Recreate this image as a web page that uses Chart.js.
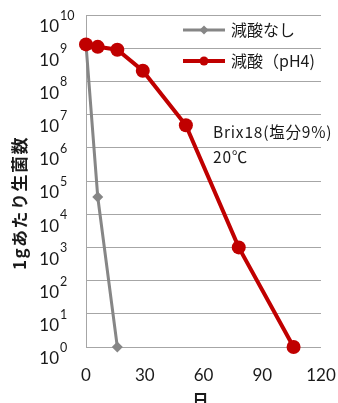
<!DOCTYPE html>
<html>
<head>
<meta charset="utf-8">
<script src="https://cdn.jsdelivr.net/npm/chart.js@4/dist/chart.umd.min.js"></script>
<style>
  html, body { margin: 0; padding: 0; background: #fff; }
  #wrap { width: 338px; height: 403px; position: relative; }
</style>
</head>
<body>
<div id="wrap"><canvas id="chart"></canvas></div>
<script>
// viable counts per gram vs. days
var seriesNames = ['減酸なし', '減酸（pH4)'];
var daysPlain = [0, 6, 16];
var cfuPlain = [1.3e9, 3.3e4, 1];
var daysPH4 = [0, 6, 16, 29, 51, 78, 106];
var cfuPH4 = [1.3e9, 1.1e9, 9e8, 2.1e8, 4.8e6, 1e3, 1];
var xTicks = [0, 30, 60, 90, 120];
var yExponents = [0, 1, 2, 3, 4, 5, 6, 7, 8, 9, 10];
var noteLines = ['Brix18(塩分9%)', '20℃'];
var xTitle = '日';
var yTitle = '1gあたり生菌数';

var GRAY = '#868686';
var RED = '#c00000';
var GRID = '#a6a6a6';
var LATIN = "Lato, 'Noto Sans CJK JP', sans-serif";
var JP = "'Noto Sans CJK JP', sans-serif";

function points(xs, ys) {
  var out = [];
  for (var i = 0; i < xs.length; i++) out.push({x: xs[i], y: ys[i]});
  return out;
}

// y labels as 10 + superscript, legend, note text and axis titles
var extras = {
  id: 'extras',
  afterDraw: function(chart) {
    var ctx = chart.ctx;
    var area = chart.chartArea;
    var y = chart.scales.y;
    ctx.save();
    ctx.fillStyle = '#1a1a1a';
    ctx.textBaseline = 'middle';
    yExponents.forEach(function(e) {
      var py = y.getPixelForValue(Math.pow(10, e));
      ctx.font = '17px ' + LATIN;
      ctx.textAlign = 'right';
      ctx.fillText('10', area.left - 27, py + 12);
      ctx.font = '12.5px ' + LATIN;
      ctx.textAlign = 'left';
      ctx.fillText(String(e), area.left - 26, py + 1);
    });

    // legend
    chart.data.datasets.forEach(function(ds, i) {
      var ly = area.top + 15 + i * 31;
      var x0 = 183, x1 = 225;
      ctx.strokeStyle = ds.borderColor;
      ctx.lineWidth = ds.borderWidth;
      ctx.beginPath();
      ctx.moveTo(x0, ly);
      ctx.lineTo(x1, ly);
      ctx.stroke();
      ctx.fillStyle = ds.borderColor;
      ctx.beginPath();
      if (ds.pointStyle === 'rectRot') {
        ctx.moveTo((x0 + x1) / 2, ly - 4.5);
        ctx.lineTo((x0 + x1) / 2 + 4.5, ly);
        ctx.lineTo((x0 + x1) / 2, ly + 4.5);
        ctx.lineTo((x0 + x1) / 2 - 4.5, ly);
        ctx.closePath();
      } else {
        ctx.arc((x0 + x1) / 2, ly, 4.5, 0, Math.PI * 2);
      }
      ctx.fill();
      ctx.fillStyle = '#1a1a1a';
      ctx.font = '16px ' + JP;
      ctx.textAlign = 'left';
      ctx.fillText(ds.label, 231, ly);
    });

    // conditions note
    ctx.font = '15.5px ' + JP;
    ctx.textAlign = 'left';
    ctx.letterSpacing = '0.8px';
    noteLines.forEach(function(t, i) {
      ctx.fillText(t, 213, 132 + i * 25);
    });
    ctx.letterSpacing = '0px';

    // axis titles
    ctx.font = 'bold 16px ' + JP;
    ctx.textAlign = 'center';
    ctx.fillText(xTitle, (area.left + area.right) / 2 - 3, 400);

    ctx.translate(20, 203);
    ctx.rotate(-Math.PI / 2);
    ctx.font = 'bold 17px ' + JP;
    ctx.letterSpacing = '1.5px';
    ctx.fillText(yTitle, 0, 0);
    ctx.restore();
  }
};

new Chart(document.getElementById('chart'), {
  type: 'line',
  data: {
    datasets: [{
      label: seriesNames[0],
      data: points(daysPlain, cfuPlain),
      borderColor: GRAY,
      backgroundColor: GRAY,
      borderWidth: 3,
      pointStyle: 'rectRot',
      pointRadius: 5.5,
      pointBorderWidth: 0,
      order: 1,
      clip: false
    }, {
      label: seriesNames[1],
      data: points(daysPH4, cfuPH4),
      borderColor: RED,
      backgroundColor: RED,
      borderWidth: 4,
      pointStyle: 'circle',
      pointRadius: 7,
      pointBorderWidth: 0,
      order: 0,
      clip: false
    }]
  },
  options: {
    responsive: true,
    maintainAspectRatio: false,
    animation: false,
    layout: { padding: { top: 15, right: 17, left: 0, bottom: 0 } },
    plugins: {
      legend: { display: false },
      tooltip: { enabled: false }
    },
    scales: {
      x: {
        type: 'linear',
        min: 0,
        max: 120,
        afterBuildTicks: function(s) { s.ticks = xTicks.map(function(v) { return {value: v}; }); },
        afterFit: function(s) {
          s.height = 56;
          s.paddingLeft = 0;
          s.paddingRight = 0;
        },
        grid: { display: false, drawTicks: false },
        border: { display: false },
        ticks: {
          padding: 18,
          color: '#1a1a1a',
          font: { family: LATIN, size: 17 },
          maxRotation: 0
        }
      },
      y: {
        type: 'logarithmic',
        min: 1,
        max: 1e10,
        afterBuildTicks: function(s) { s.ticks = yExponents.map(function(e) { return {value: Math.pow(10, e)}; }); },
        afterFit: function(s) { s.width = 86; },
        grid: { color: GRID, lineWidth: 1, drawTicks: false },
        border: { display: true, color: GRID, width: 1 },
        ticks: { display: false }
      }
    }
  },
  plugins: [extras]
});
</script>
</body>
</html>
